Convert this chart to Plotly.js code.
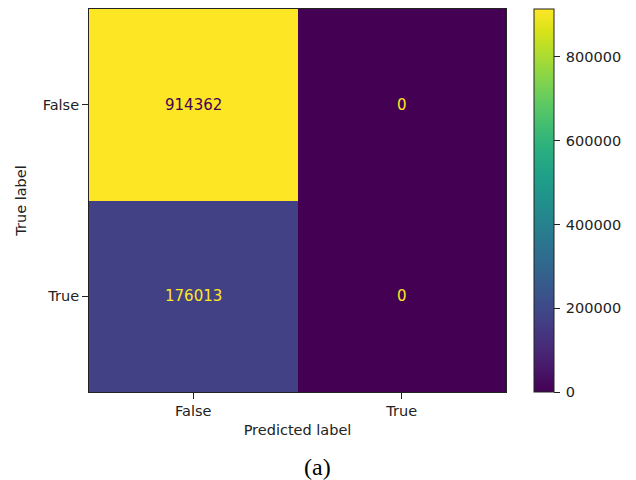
<!DOCTYPE html>
<html>
<head>
<meta charset="utf-8">
<script src="https://cdn.plot.ly/plotly-3.0.1.min.js"></script>
<style>body{margin:0;padding:0;background:#fff}#chart{width:636px;height:480px}</style>
</head>
<body>
<div id="chart"></div>
<script>
const predictedLabels = ['False', 'True'];
const trueLabels = ['False', 'True'];
const counts = [
  [914362, 0],
  [176013, 0]
];
const colorbarTicks = [0, 200000, 400000, 600000, 800000];

const zmin = 0;
const zmax = Math.max(...counts.flat());
const thresh = (zmax + zmin) / 2;
const FS = 14.5;

const annotations = [];
for (let i = 0; i < trueLabels.length; i++) {
  for (let j = 0; j < predictedLabels.length; j++) {
    annotations.push({
      x: predictedLabels[j], y: trueLabels[i], xref: 'x', yref: 'y',
      text: String(counts[i][j]), showarrow: false,
      font: {family: 'DejaVu Sans', size: 15, color: counts[i][j] > thresh ? '#440154' : '#fde725'}
    });
  }
}
annotations.push({
  xref: 'paper', yref: 'paper', x: 0.549, y: -0.195, xanchor: 'center', yanchor: 'middle',
  text: '(a)', showarrow: false,
  font: {family: 'Liberation Serif', size: 24, color: '#000'}
});

const trace = {
  type: 'heatmap',
  x: predictedLabels, y: trueLabels, z: counts,
  zmin: zmin, zmax: zmax,
  colorscale: 'Viridis',
  hoverinfo: 'skip',
  colorbar: {
    x: 1.067, xanchor: 'left', xref: 'paper', y: 0, yanchor: 'bottom', len: 1, lenmode: 'fraction',
    thickness: 20, thicknessmode: 'pixels',
    outlinewidth: 1, outlinecolor: '#222',
    tickvals: colorbarTicks, ticktext: colorbarTicks.map(v => '\u2009' + v),
    ticks: 'outside', ticklen: 6, tickcolor: '#222',
    tickfont: {family: 'DejaVu Sans', size: FS, color: '#222'},
    xpad: 0, ypad: 0
  }
};

const axisCommon = {
  showgrid: false, zeroline: false, showline: true, mirror: true,
  linecolor: '#222', linewidth: 1,
  ticks: 'outside', ticklen: 6, tickcolor: '#222',
  tickfont: {family: 'DejaVu Sans', size: FS, color: '#222'},
  fixedrange: true
};

const layout = {
  width: 636, height: 480,
  margin: {l: 89, r: 130, t: 9, b: 88},
  paper_bgcolor: '#fff', plot_bgcolor: '#fff',
  xaxis: Object.assign({}, axisCommon, {
    type: 'category',
    title: {text: 'Predicted label', font: {family: 'DejaVu Sans', size: FS, color: '#222'}, standoff: 6}
  }),
  yaxis: Object.assign({}, axisCommon, {
    type: 'category', autorange: 'reversed',
    title: {text: 'True label', font: {family: 'DejaVu Sans', size: FS, color: '#222'}, standoff: 12}
  }),
  annotations: annotations,
  showlegend: false
};

Plotly.newPlot('chart', [trace], layout, {displayModeBar: false, staticPlot: true});
</script>
</body>
</html>
